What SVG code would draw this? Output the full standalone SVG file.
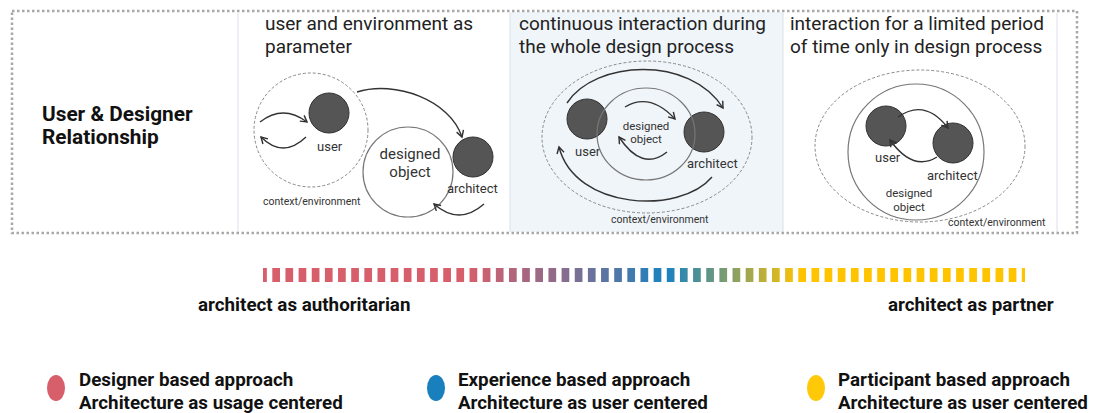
<svg xmlns="http://www.w3.org/2000/svg" width="1095" height="413" viewBox="0 0 1095 413">
  <style>
    .title { font-family: Roboto, "Liberation Sans", sans-serif; font-size: 19px; fill: #222; }
    .head { font-family: Roboto, "Liberation Sans", sans-serif; font-size: 20.8px; font-weight: bold; fill: #111; }
    .lbl { font-family: Roboto, "Liberation Sans", sans-serif; font-size: 13px; fill: #333; }
    .obj { font-family: Roboto, "Liberation Sans", sans-serif; font-size: 15px; fill: #333; text-anchor: middle; }
    .obj-s { font-family: Roboto, "Liberation Sans", sans-serif; font-size: 11.5px; fill: #333; text-anchor: middle; }
    .ctx { font-family: Roboto, "Liberation Sans", sans-serif; font-size: 10.5px; fill: #333; }
    .bold { font-family: Roboto, "Liberation Sans", sans-serif; font-size: 18.8px; font-weight: bold; fill: #111; }
    .person { fill: #555; stroke: #333; stroke-width: 1; }
    .env { fill: none; stroke: #888; stroke-width: 1; stroke-dasharray: 3 2; }
    .design { fill: none; stroke: #777; stroke-width: 1.2; }
    .arrow { fill: none; stroke: #333; stroke-width: 1.4; marker-end: url(#head); }
    .divider { stroke: #dfe5ec; stroke-width: 1.2; }
  </style>
  <defs>
    <marker id="head" viewBox="0 0 10 10" refX="8" refY="5" markerWidth="9" markerHeight="9" markerUnits="userSpaceOnUse" orient="auto">
      <path d="M1,1 L8,5 L1,9" fill="none" stroke="#333" stroke-width="1.6"/>
    </marker>
    <linearGradient id="scale" gradientUnits="userSpaceOnUse" x1="263" y1="0" x2="1025" y2="0">
      <stop offset="0" stop-color="#d65f6b"/>
      <stop offset="0.27" stop-color="#d65f6b"/>
      <stop offset="0.39" stop-color="#8c6c8c"/>
      <stop offset="0.53" stop-color="#1a82c0"/>
      <stop offset="0.63" stop-color="#98a458"/>
      <stop offset="0.705" stop-color="#ffc400"/>
      <stop offset="1" stop-color="#ffc400"/>
    </linearGradient>
  </defs>

  <!-- panel backgrounds and dividers -->
  <rect x="510" y="12" width="273" height="220" fill="#f0f5fa"/>
  <line class="divider" x1="238" y1="13" x2="238" y2="232"/>
  <line class="divider" x1="510" y1="13" x2="510" y2="232"/>
  <line class="divider" x1="783" y1="13" x2="783" y2="232"/>
  <line class="divider" x1="1057" y1="13" x2="1057" y2="232"/>

  <!-- dotted frame around the relationship row -->
  <rect x="12" y="11" width="1065" height="222" fill="none" stroke="#a8a8a8" stroke-width="2.5" stroke-dasharray="2.5 2.5"/>

  <g id="row-heading">
    <text class="head" x="42" y="121">User &amp; Designer</text>
    <text class="head" x="42" y="144">Relationship</text>
  </g>

  <!-- panel 1: user and environment as parameter -->
  <g id="panel1-title">
    <text class="title" x="265" y="30">user and environment as</text>
    <text class="title" x="265" y="53">parameter</text>
  </g>
  <g id="panel1-context">
    <circle class="env" cx="311" cy="130" r="57"/>
    <text class="ctx" x="263" y="205">context/environment</text>
  </g>
  <g id="panel1-user">
    <circle class="person" cx="329" cy="113" r="20"/>
    <text class="lbl" x="317" y="151">user</text>
  </g>
  <g id="panel1-object">
    <circle class="design" cx="408" cy="172" r="45" fill="#fff"/>
    <text class="obj" x="410" y="159">designed</text>
    <text class="obj" x="410" y="177">object</text>
  </g>
  <g id="panel1-architect">
    <circle class="person" cx="473" cy="157" r="20"/>
    <text class="lbl" x="447" y="193">architect</text>
  </g>

  <!-- panel 2: continuous interaction -->
  <g id="panel2-title">
    <text class="title" x="519" y="30">continuous interaction during</text>
    <text class="title" x="519" y="53">the whole design process</text>
  </g>
  <g id="panel2-context">
    <ellipse class="env" cx="647" cy="137" rx="105" ry="76"/>
    <text class="ctx" x="611" y="223">context/environment</text>
  </g>
  <g id="panel2-user">
    <circle class="person" cx="587" cy="119" r="20"/>
    <text class="lbl" x="575" y="156">user</text>
  </g>
  <g id="panel2-architect">
    <circle class="person" cx="704" cy="132" r="20"/>
    <text class="lbl" x="687" y="168">architect</text>
  </g>
  <g id="panel2-object">
    <ellipse class="design" cx="646" cy="134" rx="49" ry="46" stroke="#666"/>
    <text class="obj-s" x="646" y="130">designed</text>
    <text class="obj-s" x="646" y="143">object</text>
  </g>

  <!-- panel 3: limited interaction -->
  <g id="panel3-title">
    <text class="title" x="790" y="30">interaction for a limited period</text>
    <text class="title" x="790" y="53">of time only in design process</text>
  </g>
  <g id="panel3-context">
    <ellipse class="env" cx="920" cy="146" rx="105" ry="76"/>
    <text class="ctx" x="948" y="226">context/environment</text>
  </g>
  <g id="panel3-object">
    <circle class="design" cx="916" cy="152" r="68" stroke="#555"/>
    <text class="obj-s" x="909" y="197">designed</text>
    <text class="obj-s" x="909" y="211">object</text>
  </g>
  <g id="panel3-user">
    <circle class="person" cx="886" cy="126" r="20"/>
    <text class="lbl" x="875" y="162">user</text>
  </g>
  <g id="panel3-architect">
    <circle class="person" cx="953" cy="143" r="20"/>
    <text class="lbl" x="927" y="180">architect</text>
  </g>

  <!-- connectors -->
  <g id="connectors">
    <path class="arrow" d="M357,92 C395,80 450,100 462,137"/>
    <path class="arrow" d="M260,122 Q283,104 307,122"/>
    <path class="arrow" d="M306,137 Q283,159 261,137"/>
    <path class="arrow" d="M484,204 Q459,226 434,204"/>

    <path class="arrow" d="M567,103 C595,60 690,55 723,108"/>
    <path class="arrow" d="M712,177 C680,215 575,210 559,147"/>
    <path class="arrow" d="M625,107 Q650,92 675,119"/>
    <path class="arrow" d="M667,152 Q642,172 619,137"/>

    <path class="arrow" d="M898,117 Q925,98 948,128"/>
    <path class="arrow" d="M937,157 Q913,172 890,140"/>
  </g>

  <!-- spectrum from authoritarian to partner -->
  <g id="spectrum">
    <line x1="263" y1="275" x2="1025" y2="275" stroke="url(#scale)" stroke-width="14" stroke-dasharray="7.7 5.45" stroke-dashoffset="3.85"/>
    <text class="bold" x="198" y="311">architect as authoritarian</text>
    <text class="bold" x="888" y="311">architect as partner</text>
  </g>

  <!-- legend -->
  <g id="legend-designer">
    <ellipse cx="56" cy="388" rx="9" ry="13" fill="#d65f6b"/>
    <text class="bold" x="79" y="386">Designer based approach</text>
    <text class="bold" x="79" y="409">Architecture as usage centered</text>
  </g>
  <g id="legend-experience">
    <ellipse cx="436" cy="388" rx="9" ry="13" fill="#1a7fbd"/>
    <text class="bold" x="458" y="386">Experience based approach</text>
    <text class="bold" x="458" y="409">Architecture as user centered</text>
  </g>
  <g id="legend-participant">
    <ellipse cx="816" cy="388" rx="9" ry="13" fill="#ffc90a"/>
    <text class="bold" x="838" y="386">Participant based approach</text>
    <text class="bold" x="838" y="409">Architecture as user centered</text>
  </g>
</svg>
